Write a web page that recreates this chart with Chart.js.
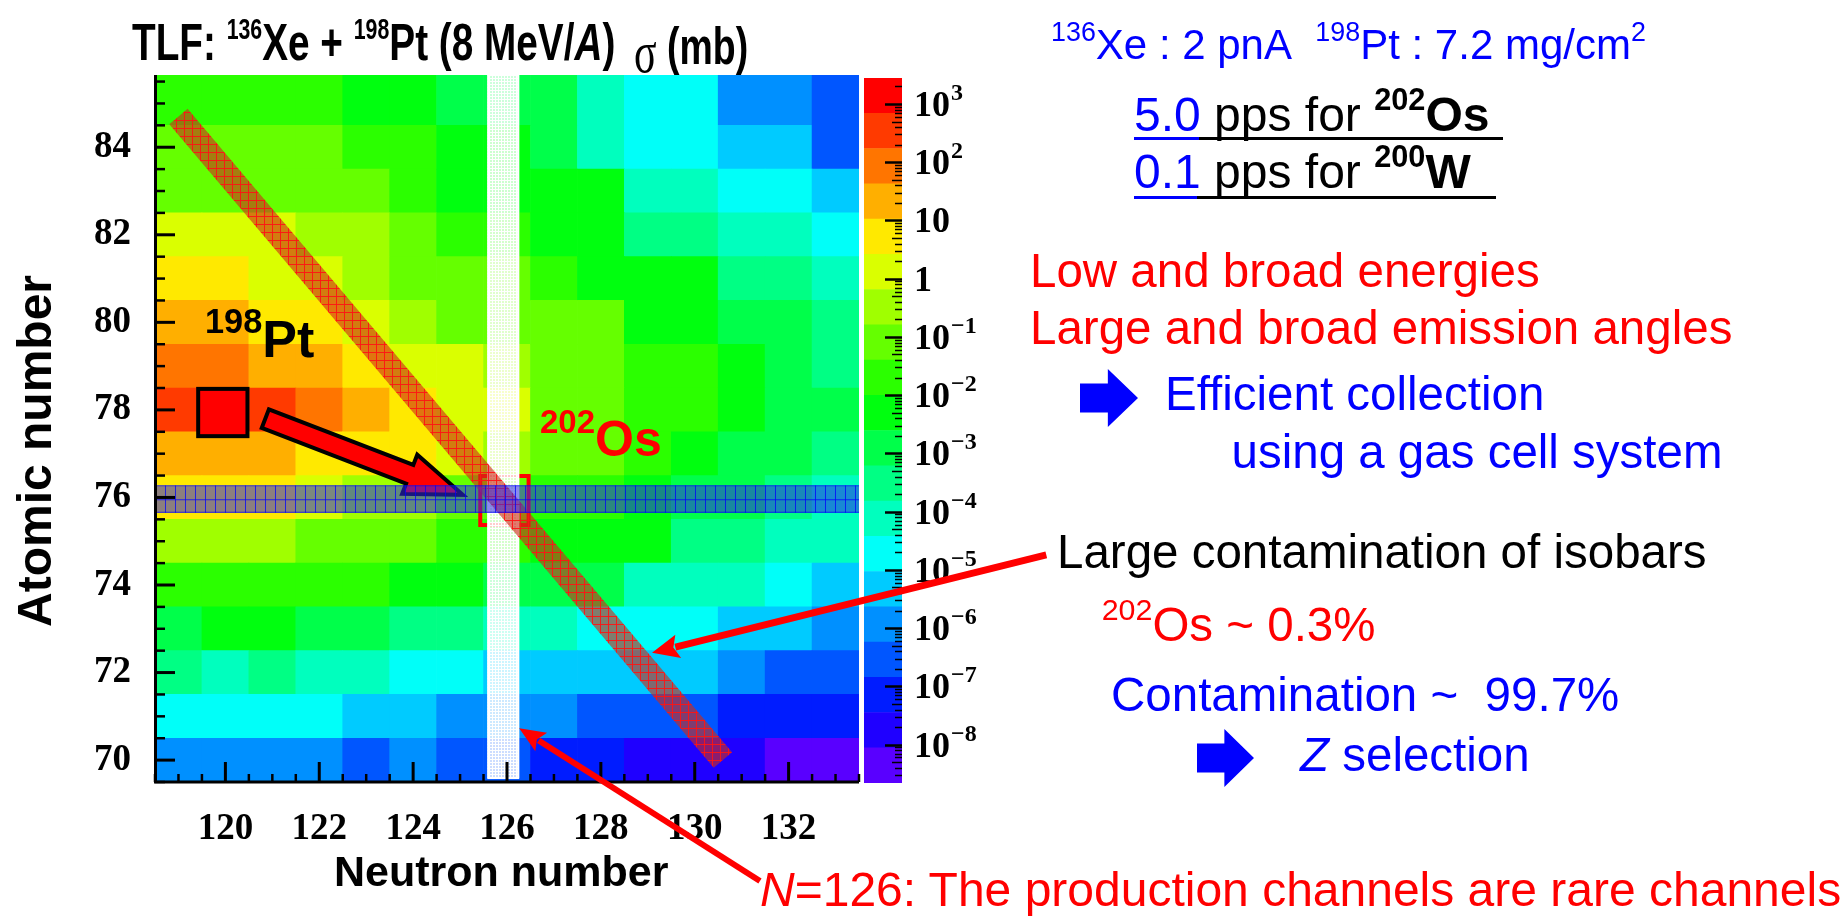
<!DOCTYPE html>
<html>
<head>
<meta charset="utf-8">
<title>TLF cross sections 136Xe + 198Pt</title>
<script src="https://cdn.jsdelivr.net/npm/chart.js@4.4.1/dist/chart.umd.min.js"></script>
<style>
  html, body { margin: 0; padding: 0; background: #fff; }
  #stage { position: relative; width: 1848px; height: 918px; overflow: hidden; background: #fff; }
  #stage canvas { position: absolute; left: 0; top: 0; }
  #cbar { z-index: 1; }
  #main { z-index: 2; }
  .t { position: absolute; z-index: 3; white-space: pre; line-height: 1;
       font-family: "Liberation Sans", Arial, sans-serif; }
  .sup  { font-size: .64em; position: relative; top: -.7em; line-height: 0; }
  .tsup { font-size: .55em; position: relative; top: -.72em; line-height: 0; }
  .psup { font-size: .66em; position: relative; top: -.69em; line-height: 0; }
  .rule { position: absolute; z-index: 3; height: 3px; }
  .blockArrow { position: absolute; z-index: 3; background: #0000ff;
       clip-path: polygon(0% 25%, 48% 25%, 48% 0%, 100% 50%, 48% 100%, 48% 75%, 0% 75%); }
</style>
</head>
<body>
<div id="stage">
  <canvas id="cbar" width="1848" height="918"></canvas>
  <canvas id="main" width="1848" height="918"></canvas>
</div>
<script>
// ---------------- data ----------------
const neutronNumbers = [119, 120, 121, 122, 123, 124, 125, 126, 127, 128, 129, 130, 131, 132, 133];
const atomicNumbers  = [85, 84, 83, 82, 81, 80, 79, 78, 77, 76, 75, 74, 73, 72, 71, 70];

// log10 of the production cross section (mb); one row per Z, columns follow neutronNumbers
const logSigma = [
  [-1.7, -1.7, -1.7, -1.7, -2.3, -2.3, -2.9, -2.9, -2.9, -4.1, -4.7, -4.7, -5.9, -5.9, -6.5], // Z=85
  [-1.1, -1.1, -1.1, -1.1, -1.7, -1.7, -2.3, -2.3, -2.9, -4.1, -4.7, -4.7, -5.3, -5.3, -6.5], // Z=84
  [-1.1, -1.1, -1.1, -1.1, -1.1, -1.7, -2.3, -2.3, -2.3, -2.3, -4.1, -4.1, -4.7, -4.7, -5.3], // Z=83
  [ 0.1,  0.1,  0.1, -0.5, -0.5, -1.1, -1.7, -1.7, -2.3, -2.3, -3.5, -3.5, -4.1, -4.1, -4.7], // Z=82
  [ 0.7,  0.7,  0.1,  0.1, -0.5, -1.1, -1.1, -1.1, -1.7, -2.3, -2.3, -2.3, -3.5, -3.5, -4.1], // Z=81
  [ 1.3,  1.3,  0.7,  0.7,  0.1, -0.5, -1.1, -1.1, -1.1, -1.1, -2.3, -2.3, -2.9, -2.9, -3.5], // Z=80
  [ 1.9,  1.9,  1.3,  1.3,  0.7,  0.1,  0.1, -0.5, -1.1, -1.1, -1.7, -1.7, -2.3, -2.9, -3.5], // Z=79
  [ 2.5,  3.1,  2.5,  1.9,  1.3,  0.7,  0.1,  0.1, -1.1, -1.1, -1.7, -1.7, -2.3, -2.9, -2.9], // Z=78
  [ 1.3,  1.3,  1.3,  0.7,  0.7,  0.7,  0.1, -0.5, -1.1, -1.1, -1.7, -2.3, -2.9, -2.9, -3.5], // Z=77
  [ 0.7,  0.7,  0.7,  0.1, -0.5, -0.5, -1.1, -1.1, -1.7, -1.7, -2.3, -2.9, -2.9, -3.5, -4.1], // Z=76
  [-0.5, -0.5, -0.5, -1.1, -1.1, -1.1, -1.7, -1.7, -2.3, -2.3, -2.3, -3.5, -3.5, -4.1, -4.1], // Z=75
  [-1.7, -1.7, -1.7, -1.7, -1.7, -2.3, -2.3, -2.9, -2.9, -2.9, -4.1, -4.1, -4.1, -4.7, -5.3], // Z=74
  [-2.9, -2.3, -2.3, -2.9, -2.9, -3.5, -3.5, -4.1, -4.1, -4.7, -4.7, -4.7, -5.3, -5.3, -5.9], // Z=73
  [-3.5, -4.1, -3.5, -4.1, -4.1, -4.7, -4.7, -5.3, -5.3, -5.3, -5.3, -5.3, -5.9, -6.5, -6.5], // Z=72
  [-4.7, -4.7, -4.7, -4.7, -5.3, -5.3, -5.9, -5.9, -5.9, -6.5, -6.5, -6.5, -7.1, -7.1, -7.1], // Z=71
  [-5.9, -5.9, -5.9, -5.9, -6.5, -5.9, -6.5, -6.5, -7.1, -7.1, -7.8, -7.8, -7.8, -8.4, -8.4]  // Z=70
];

const nTickLabels = [120, 122, 124, 126, 128, 130, 132];
const zTickLabels = [70, 72, 74, 76, 78, 80, 82, 84];
const cbarDecades = [3, 2, 1, 0, -1, -2, -3, -4, -5, -6, -7, -8];

// ---------------- axis ranges and palette ----------------
const N_MIN = 118.5, N_MAX = 133.5;
const Z_MIN = 69.5,  Z_MAX = 85.65;
const LOG_MIN = -8.66, LOG_MAX = 3.446, LEVELS = 20;
const LEVEL_STEP = (LOG_MAX - LOG_MIN) / LEVELS;

// violet -> blue -> cyan -> green -> yellow -> red, one colour per contour level
function levelColor(k) {
  const hue = 261 - k * 261 / (LEVELS - 1);
  return `hsl(${hue.toFixed(1)}, 100%, 50%)`;
}
function colorFor(logValue) {
  const k = Math.max(0, Math.min(LEVELS - 1, Math.floor((logValue - LOG_MIN) / LEVEL_STEP)));
  return levelColor(k);
}

// annotation geometry, in (N, Z) units
const isobarBand   = { from: [119.0, 84.7], to: [130.6, 70.0], widthPx: 24 };        // A = 202 line
const closedShellN = { nLo: 125.58, nHi: 126.26, zLo: 69.59 };                         // N = 126 strip
const osmiumZ      = { zLo: 75.65, zHi: 76.28 };                                       // Z = 76 strip
const targetCell   = { nLo: 119.42, nHi: 120.47, zLo: 77.40, zHi: 78.48 };             // 198Pt
const osmiumCell   = { nLo: 125.43, nHi: 126.46, zLo: 75.37, zHi: 76.49 };             // 202Os
const transferArrow = { from: [120.85, 77.8], to: [125.06, 76.06] };
const isobarPointer = { from: [137.49, 74.69], to: [129.09, 72.45] };
const shellPointer  = { from: [131.39, 67.24], to: [126.26, 70.73] };

// ---------------- heatmap cells ----------------
const cells = [], cellColors = [];
atomicNumbers.forEach((z, r) => {
  neutronNumbers.forEach((n, c) => {
    // the top bin reaches the upper edge of the frame
    const hi = r === 0 ? Z_MAX : z + 0.5;
    cells.push({ x: n, y: [z - 0.5, hi] });
    cellColors.push(colorFor(logSigma[r][c]));
  });
});

// ---------------- helpers ----------------
function gridPattern(ctx, w, h, bg, line, lw) {
  const c = document.createElement('canvas');
  c.width = w; c.height = h;
  const g = c.getContext('2d');
  g.fillStyle = bg; g.fillRect(0, 0, w, h);
  g.strokeStyle = line; g.lineWidth = lw;
  g.beginPath();
  g.moveTo(0, lw / 2); g.lineTo(w, lw / 2);
  g.moveTo(lw / 2, 0); g.lineTo(lw / 2, h);
  g.stroke();
  return ctx.createPattern(c, 'repeat');
}
function lineArrow(ctx, x0, y0, x1, y1, lw, headLen, headHalf, color) {
  const dx = x1 - x0, dy = y1 - y0, L = Math.hypot(dx, dy);
  const ux = dx / L, uy = dy / L;
  const bx = x1 - ux * headLen, by = y1 - uy * headLen;
  ctx.strokeStyle = color; ctx.lineWidth = lw; ctx.lineCap = 'butt';
  ctx.beginPath(); ctx.moveTo(x0, y0); ctx.lineTo(bx + ux * 3, by + uy * 3); ctx.stroke();
  ctx.fillStyle = color;
  ctx.beginPath();
  ctx.moveTo(x1, y1);
  ctx.lineTo(bx - uy * headHalf, by + ux * headHalf);
  ctx.lineTo(bx + ux * 5, by + uy * 5);
  ctx.lineTo(bx + uy * headHalf, by - ux * headHalf);
  ctx.closePath(); ctx.fill();
}

// overlays drawn on top of the cells
const overlays = {
  id: 'overlays',
  afterDatasetsDraw(chart) {
    const { ctx, scales: { x, y } } = chart;
    const px = n => x.getPixelForValue(n), py = z => y.getPixelForValue(z);
    ctx.save();

    // box around the 202Os cell
    ctx.strokeStyle = '#ff0000'; ctx.lineWidth = 4;
    ctx.strokeRect(px(osmiumCell.nLo), py(osmiumCell.zHi),
                   px(osmiumCell.nHi) - px(osmiumCell.nLo), py(osmiumCell.zLo) - py(osmiumCell.zHi));

    // N = 126 strip
    const wx0 = px(closedShellN.nLo), wx1 = px(closedShellN.nHi);
    const wy0 = py(Z_MAX), wy1 = py(closedShellN.zLo);
    ctx.fillStyle = gridPattern(ctx, 3, 3, 'rgba(255,255,255,0.8)', 'rgba(255,255,255,1)', 1);
    ctx.fillRect(wx0, wy0, wx1 - wx0, wy1 - wy0);
    ctx.strokeStyle = '#ffffff'; ctx.lineWidth = 2;
    ctx.strokeRect(wx0 + 1, wy0, wx1 - wx0 - 2, wy1 - wy0);

    // isobar band
    const a0 = [px(isobarBand.from[0]), py(isobarBand.from[1])];
    const a1 = [px(isobarBand.to[0]),   py(isobarBand.to[1])];
    const L = Math.hypot(a1[0] - a0[0], a1[1] - a0[1]);
    const nx = -(a1[1] - a0[1]) / L, ny = (a1[0] - a0[0]) / L, h = isobarBand.widthPx / 2;
    ctx.fillStyle = gridPattern(ctx, 8, 8, 'rgba(205,45,25,0.62)', 'rgba(255,20,20,0.9)', 1);
    ctx.beginPath();
    ctx.moveTo(a0[0] + nx * h, a0[1] + ny * h);
    ctx.lineTo(a1[0] + nx * h, a1[1] + ny * h);
    ctx.lineTo(a1[0] - nx * h, a1[1] - ny * h);
    ctx.lineTo(a0[0] - nx * h, a0[1] - ny * h);
    ctx.closePath(); ctx.fill();

    // transfer arrow from 198Pt to 202Os
    {
      const t = [px(transferArrow.from[0]), py(transferArrow.from[1])];
      const p = [px(transferArrow.to[0]),   py(transferArrow.to[1])];
      const l = Math.hypot(p[0] - t[0], p[1] - t[1]);
      const ux = (p[0] - t[0]) / l, uy = (p[1] - t[1]) / l, vx = -uy, vy = ux;
      const sh = 10, hh = 21, hl = 57;
      const b = [p[0] - ux * hl, p[1] - uy * hl];
      ctx.beginPath();
      ctx.moveTo(t[0] + vx * sh, t[1] + vy * sh);
      ctx.lineTo(b[0] + vx * sh, b[1] + vy * sh);
      ctx.lineTo(b[0] + vx * hh, b[1] + vy * hh);
      ctx.lineTo(p[0], p[1]);
      ctx.lineTo(b[0] - vx * hh, b[1] - vy * hh);
      ctx.lineTo(b[0] - vx * sh, b[1] - vy * sh);
      ctx.lineTo(t[0] - vx * sh, t[1] - vy * sh);
      ctx.closePath();
      ctx.fillStyle = '#ff0000'; ctx.fill();
      ctx.lineJoin = 'miter'; ctx.lineWidth = 4; ctx.strokeStyle = '#000'; ctx.stroke();
    }

    // Z = 76 strip
    const by0 = py(osmiumZ.zHi), by1 = py(osmiumZ.zLo);
    const bPat = gridPattern(ctx, 10, Math.round((by1 - by0) / 2), 'rgba(45,40,230,0.55)', 'rgba(0,0,255,0.75)', 1);
    bPat.setTransform(new DOMMatrix().translate(px(N_MIN), by0));
    ctx.fillStyle = bPat;
    ctx.fillRect(px(N_MIN), by0, px(N_MAX) - px(N_MIN), by1 - by0);
    ctx.strokeStyle = 'rgba(0,0,255,0.75)'; ctx.lineWidth = 1;
    ctx.beginPath(); ctx.moveTo(px(N_MIN), by1 - 0.5); ctx.lineTo(px(N_MAX), by1 - 0.5); ctx.stroke();

    // 198Pt target cell
    ctx.fillStyle = '#ff0000';
    const sx = px(targetCell.nLo), sy = py(targetCell.zHi);
    const sw = px(targetCell.nHi) - sx, shh = py(targetCell.zLo) - sy;
    ctx.fillRect(sx, sy, sw, shh);
    ctx.strokeStyle = '#000'; ctx.lineWidth = 4; ctx.strokeRect(sx, sy, sw, shh);

    ctx.restore();
  },
  afterDraw(chart) {
    const { ctx, chartArea: a, scales: { x, y } } = chart;
    const px = n => x.getPixelForValue(n), py = z => y.getPixelForValue(z);
    ctx.save();
    ctx.strokeStyle = '#000';
    // tick marks pointing into the frame
    for (let z = Z_MIN; z <= Z_MAX; z += 0.5) {
      const major = z % 2 === 0;
      const p = py(z);
      ctx.lineWidth = major ? 3 : 2.5;
      ctx.beginPath(); ctx.moveTo(a.left, p); ctx.lineTo(a.left + (major ? 20 : 10), p); ctx.stroke();
    }
    for (let n = N_MIN; n <= N_MAX; n += 0.5) {
      const major = n % 2 === 0;
      const p = px(n);
      ctx.lineWidth = major ? 3 : 2.5;
      ctx.beginPath(); ctx.moveTo(p, a.bottom); ctx.lineTo(p, a.bottom - (major ? 20 : 8)); ctx.stroke();
    }
    // axis lines
    ctx.lineWidth = 3;
    ctx.beginPath();
    ctx.moveTo(a.left + 0.5, a.top); ctx.lineTo(a.left + 0.5, a.bottom + 1.5);
    ctx.moveTo(a.left - 1, a.bottom); ctx.lineTo(a.right, a.bottom);
    ctx.stroke();

    // pointers from the notes
    lineArrow(ctx, px(isobarPointer.from[0]), py(isobarPointer.from[1]),
              px(isobarPointer.to[0]), py(isobarPointer.to[1]), 7, 27, 12, '#ff0000');
    lineArrow(ctx, px(shellPointer.from[0]), py(shellPointer.from[1]),
              px(shellPointer.to[0]), py(shellPointer.to[1]), 6, 26, 11, '#ff0000');
    ctx.restore();
  }
};

const tickFont = { family: '"Liberation Serif", "Times New Roman", serif', weight: 'bold', size: 37 };

new Chart(document.getElementById('main'), {
  type: 'bar',
  data: {
    datasets: [{
      data: cells,
      backgroundColor: cellColors,
      borderWidth: 0,
      barPercentage: 1,
      categoryPercentage: 1
    }]
  },
  options: {
    responsive: false,
    animation: false,
    events: [],
    layout: { padding: { left: 0, top: 75, right: 1848 - 859, bottom: 0 } },
    plugins: { legend: { display: false }, tooltip: { enabled: false } },
    scales: {
      x: {
        type: 'linear', min: N_MIN, max: N_MAX, offset: false,
        afterBuildTicks: s => { s.ticks = nTickLabels.map(v => ({ value: v })); },
        afterFit: s => { s.height = 918 - 782; },
        grid: { display: false, offset: false },
        border: { display: false },
        ticks: { font: tickFont, color: '#000', padding: 17, maxRotation: 0, minRotation: 0, autoSkip: false }
      },
      y: {
        type: 'linear', min: Z_MIN, max: Z_MAX,
        afterBuildTicks: s => { s.ticks = zTickLabels.map(v => ({ value: v })); },
        afterFit: s => { s.width = 155; },
        grid: { display: false },
        border: { display: false },
        ticks: { font: tickFont, color: '#000', padding: 16, autoSkip: false }
      }
    }
  },
  plugins: [overlays]
});

// ---------------- colour scale ----------------
const cbarAxis = {
  id: 'cbarAxis',
  afterDraw(chart) {
    const { ctx, chartArea: a, scales: { y } } = chart;
    ctx.save();
    ctx.strokeStyle = '#000';
    for (let d = -9; d <= 3; d++) {
      for (let m = 1; m <= 9; m++) {
        const v = m * Math.pow(10, d);
        if (v < y.min || v > y.max) continue;
        const p = Math.round(y.getPixelForValue(v)) + 0.5;
        ctx.lineWidth = m === 1 ? 2.5 : 1.5;
        const len = m === 1 ? 17 : (m === 5 ? 10 : 7);
        ctx.beginPath(); ctx.moveTo(a.right, p); ctx.lineTo(a.right - len, p); ctx.stroke();
      }
    }
    ctx.fillStyle = '#000'; ctx.textAlign = 'left'; ctx.textBaseline = 'alphabetic';
    cbarDecades.forEach(d => {
      const p = y.getPixelForValue(Math.pow(10, d));
      const base = d === 0 ? '1' : '10';
      ctx.font = 'bold 36px "Liberation Serif", serif';
      ctx.fillText(base, a.right + 12, p + 12);
      if (d !== 0 && d !== 1) {
        const w = ctx.measureText(base).width;
        ctx.font = 'bold 24px "Liberation Serif", serif';
        ctx.fillText(d < 0 ? '\u2212' + (-d) : String(d), a.right + 12 + w + 1, p - 4);
      }
    });
    ctx.restore();
  }
};

const levelIdx = Array.from({ length: LEVELS }, (_, k) => k);
new Chart(document.getElementById('cbar'), {
  type: 'bar',
  data: {
    labels: [''],
    datasets: levelIdx.map(k => ({
      data: [[Math.pow(10, LOG_MIN + k * LEVEL_STEP), Math.pow(10, LOG_MIN + (k + 1) * LEVEL_STEP)]],
      backgroundColor: levelColor(k),
      borderWidth: 0,
      grouped: false,
      barPercentage: 1,
      categoryPercentage: 1
    }))
  },
  options: {
    responsive: false,
    animation: false,
    events: [],
    layout: { padding: { left: 864, top: 78, right: 1848 - 902 - 100, bottom: 918 - 783 } },
    plugins: { legend: { display: false }, tooltip: { enabled: false } },
    scales: {
      x: { display: false },
      y: {
        type: 'logarithmic', position: 'right',
        min: Math.pow(10, LOG_MIN), max: Math.pow(10, LOG_MAX),
        afterFit: s => { s.width = 100; },
        grid: { display: false }, border: { display: false },
        ticks: { display: false }
      }
    }
  },
  plugins: [cbarAxis]
});

// ---------------- text ----------------
const stage = document.getElementById('stage');
function note(html, left, baseline, size, style) {
  const d = document.createElement('div');
  d.className = 't';
  d.innerHTML = html;
  d.style.left = left + 'px';
  d.style.top = (baseline - 0.8465 * size) + 'px';
  d.style.fontSize = size + 'px';
  Object.assign(d.style, style || {});
  stage.appendChild(d);
  return d;
}
function rule(left, right, y, color) {
  const d = document.createElement('div');
  d.className = 'rule';
  d.style.left = left + 'px'; d.style.width = (right - left) + 'px';
  d.style.top = (y - 1.5) + 'px'; d.style.background = color;
  stage.appendChild(d);
}
function blockArrow(left, top, w, h) {
  const d = document.createElement('div');
  d.className = 'blockArrow';
  d.style.left = left + 'px'; d.style.top = top + 'px';
  d.style.width = w + 'px'; d.style.height = h + 'px';
  stage.appendChild(d);
}

const BLUE = '#0000ff', RED = '#ff0000', BLACK = '#000000';
const condensed = s => ({ transform: `scaleX(${s})`, transformOrigin: '0 0', fontWeight: 'bold', color: BLACK });

note('TLF: <span class="tsup">136</span>Xe + <span class="tsup">198</span>Pt (8 MeV/<i>A</i>)', 132, 60, 52, condensed(0.745));
note('<span style="font-family:\'Liberation Serif\',serif;font-weight:normal;font-size:1.12em;position:relative;top:8px">\u03c3</span> (mb)', 634, 60, 52, condensed(0.72));

note('<span class="psup">198</span>Pt', 205, 357, 52, { fontWeight: 'bold', color: BLACK });
note('<span class="psup">202</span>Os', 540, 456, 50, { fontWeight: 'bold', color: RED });

note('Neutron number', 334, 886, 43, { fontWeight: 'bold', color: BLACK });
const yTitle = note('Atomic number', 35 - 210, 451 - 24 + 0.8465 * 48, 48,
  { fontWeight: 'bold', color: BLACK, width: '420px', textAlign: 'center', transform: 'rotate(-90deg)', transformOrigin: '50% 50%' });
yTitle.style.height = '48px';

note('<span class="sup">136</span>Xe : 2 pnA\u00a0\u00a0<span class="sup">198</span>Pt : 7.2 mg/cm<span class="sup">2</span>', 1051, 60, 42, { color: BLUE });

note('<span style="color:#0000ff">5.0</span> pps for <b><span class="sup">202</span>Os</b>', 1134, 131.7, 48, { color: BLACK });
rule(1134, 1199, 138.8, BLUE); rule(1199, 1503, 138.8, BLACK);
note('<span style="color:#0000ff">0.1</span> pps for <b><span class="sup">200</span>W</b>', 1134, 189, 48, { color: BLACK });
rule(1134, 1197, 197.3, BLUE); rule(1197, 1496, 197.3, BLACK);

note('Low and broad energies', 1030, 287, 47.5, { color: RED });
note('Large and broad emission angles', 1030, 344.3, 47.5, { color: RED });
blockArrow(1080, 369, 58, 58);
note('Efficient collection', 1165, 410, 47.5, { color: BLUE });
note('using a gas cell system', 1231.5, 468.4, 47.5, { color: BLUE });

note('Large contamination of isobars', 1057, 568, 47.5, { color: BLACK });
note('<span class="sup">202</span>Os ~ 0.3%', 1101.7, 641, 47.5, { color: RED });
note('Contamination ~\u00a0 99.7%', 1111, 711.4, 47.5, { color: BLUE });
blockArrow(1197, 729, 57, 58);
note('<i>Z</i> selection', 1300, 771.6, 47.5, { color: BLUE });

note('<i>N</i>=126: The production channels are rare channels', 760, 907, 48, { color: RED });
</script>
</body>
</html>
